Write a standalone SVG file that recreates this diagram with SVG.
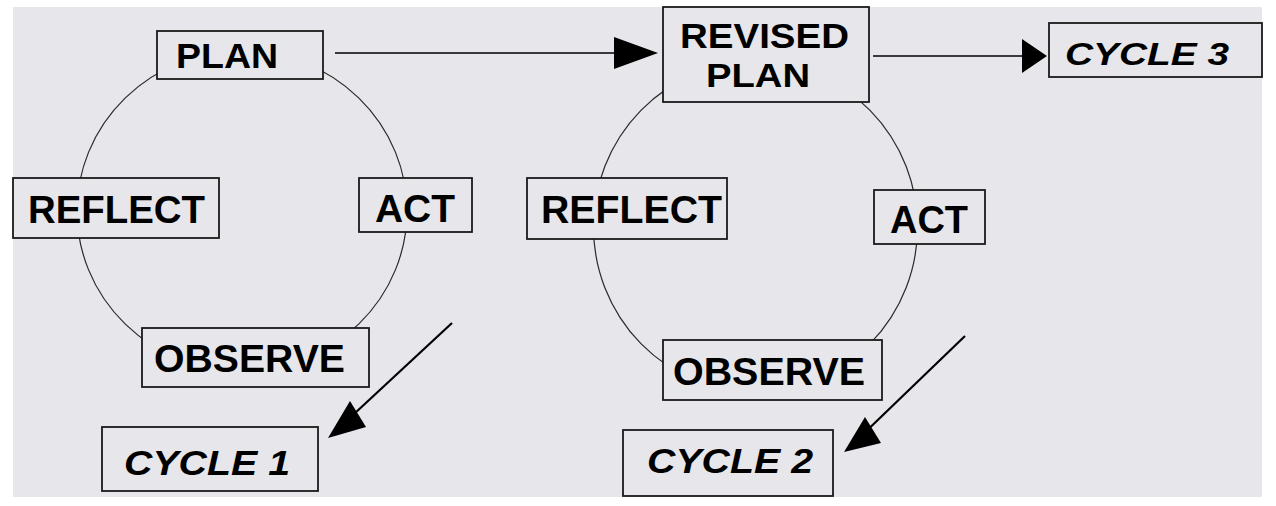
<svg xmlns="http://www.w3.org/2000/svg" width="1276" height="506" viewBox="0 0 1276 506">
<style>
.box{fill:#e6e6eb;stroke:#1a1a1a;stroke-width:1.8}
.lbl{font-family:"Liberation Sans",Arial,sans-serif;font-weight:bold;fill:#000}
.it{font-style:italic}
.ring{fill:none;stroke:#2a2a2a;stroke-width:1.2}
.ln{stroke:#000;stroke-width:1.6;fill:none}
.dg{stroke:#000;stroke-width:2.2;fill:none}
.hd{fill:#000}
</style>
<rect x="0" y="0" width="1276" height="506" fill="#ffffff"/>
<rect x="13" y="7" width="1249" height="490" fill="#e6e6eb"/>
<g id="connectors">
  <ellipse class="ring" cx="242" cy="211" rx="165" ry="160"/>
  <ellipse class="ring" cx="755.5" cy="227" rx="162" ry="165"/>
  <line class="ln" x1="335" y1="53" x2="616" y2="53"/>
  <polygon class="hd" points="658,53 614,37 614,69"/>
  <line class="ln" x1="873" y1="56" x2="1024" y2="56"/>
  <polygon class="hd" points="1047,56 1022,39 1022,73"/>
  <line class="dg" x1="452" y1="323" x2="340" y2="427"/>
  <polygon class="hd" points="328,438 350,401 366,427"/>
  <line class="dg" x1="965" y1="336" x2="856" y2="441"/>
  <polygon class="hd" points="844,452 865,417 881,443"/>
</g>
<g id="plan1">
  <rect class="box" x="157" y="31" width="166" height="48"/>
  <text class="lbl" x="176" y="68" font-size="35" textLength="102" lengthAdjust="spacingAndGlyphs">PLAN</text>
</g>
<g id="reflect1">
  <rect class="box" x="13" y="178" width="206" height="60"/>
  <text class="lbl" x="28" y="223" font-size="38.5" textLength="177" lengthAdjust="spacingAndGlyphs">REFLECT</text>
</g>
<g id="act1">
  <rect class="box" x="359" y="178" width="113" height="54"/>
  <text class="lbl" x="375" y="222" font-size="38" textLength="80" lengthAdjust="spacingAndGlyphs">ACT</text>
</g>
<g id="observe1">
  <rect class="box" x="142" y="328" width="227" height="59"/>
  <text class="lbl" x="154" y="372" font-size="38" textLength="191" lengthAdjust="spacingAndGlyphs">OBSERVE</text>
</g>
<g id="cycle1">
  <rect class="box" x="102" y="427" width="216" height="64"/>
  <text class="lbl it" x="124" y="475" font-size="35" textLength="166" lengthAdjust="spacingAndGlyphs">CYCLE 1</text>
</g>
<g id="revised-plan">
  <rect class="box" x="663" y="7" width="206" height="95"/>
  <text class="lbl" x="680" y="48" font-size="35" textLength="169" lengthAdjust="spacingAndGlyphs">REVISED</text>
  <text class="lbl" x="706" y="87" font-size="34" textLength="104" lengthAdjust="spacingAndGlyphs">PLAN</text>
</g>
<g id="cycle3">
  <rect class="box" x="1049" y="23" width="213" height="54"/>
  <text class="lbl it" x="1065" y="65" font-size="32" textLength="164" lengthAdjust="spacingAndGlyphs">CYCLE 3</text>
</g>
<g id="reflect2">
  <rect class="box" x="527" y="178" width="200" height="61"/>
  <text class="lbl" x="541" y="223" font-size="39" textLength="181" lengthAdjust="spacingAndGlyphs">REFLECT</text>
</g>
<g id="act2">
  <rect class="box" x="874" y="190" width="111" height="54"/>
  <text class="lbl" x="890" y="233" font-size="38" textLength="78" lengthAdjust="spacingAndGlyphs">ACT</text>
</g>
<g id="observe2">
  <rect class="box" x="663" y="340" width="219" height="60"/>
  <text class="lbl" x="673" y="385" font-size="39" textLength="192" lengthAdjust="spacingAndGlyphs">OBSERVE</text>
</g>
<g id="cycle2">
  <rect class="box" x="623" y="430" width="210" height="66"/>
  <text class="lbl it" x="647" y="473" font-size="35" textLength="166" lengthAdjust="spacingAndGlyphs">CYCLE 2</text>
</g>
</svg>
